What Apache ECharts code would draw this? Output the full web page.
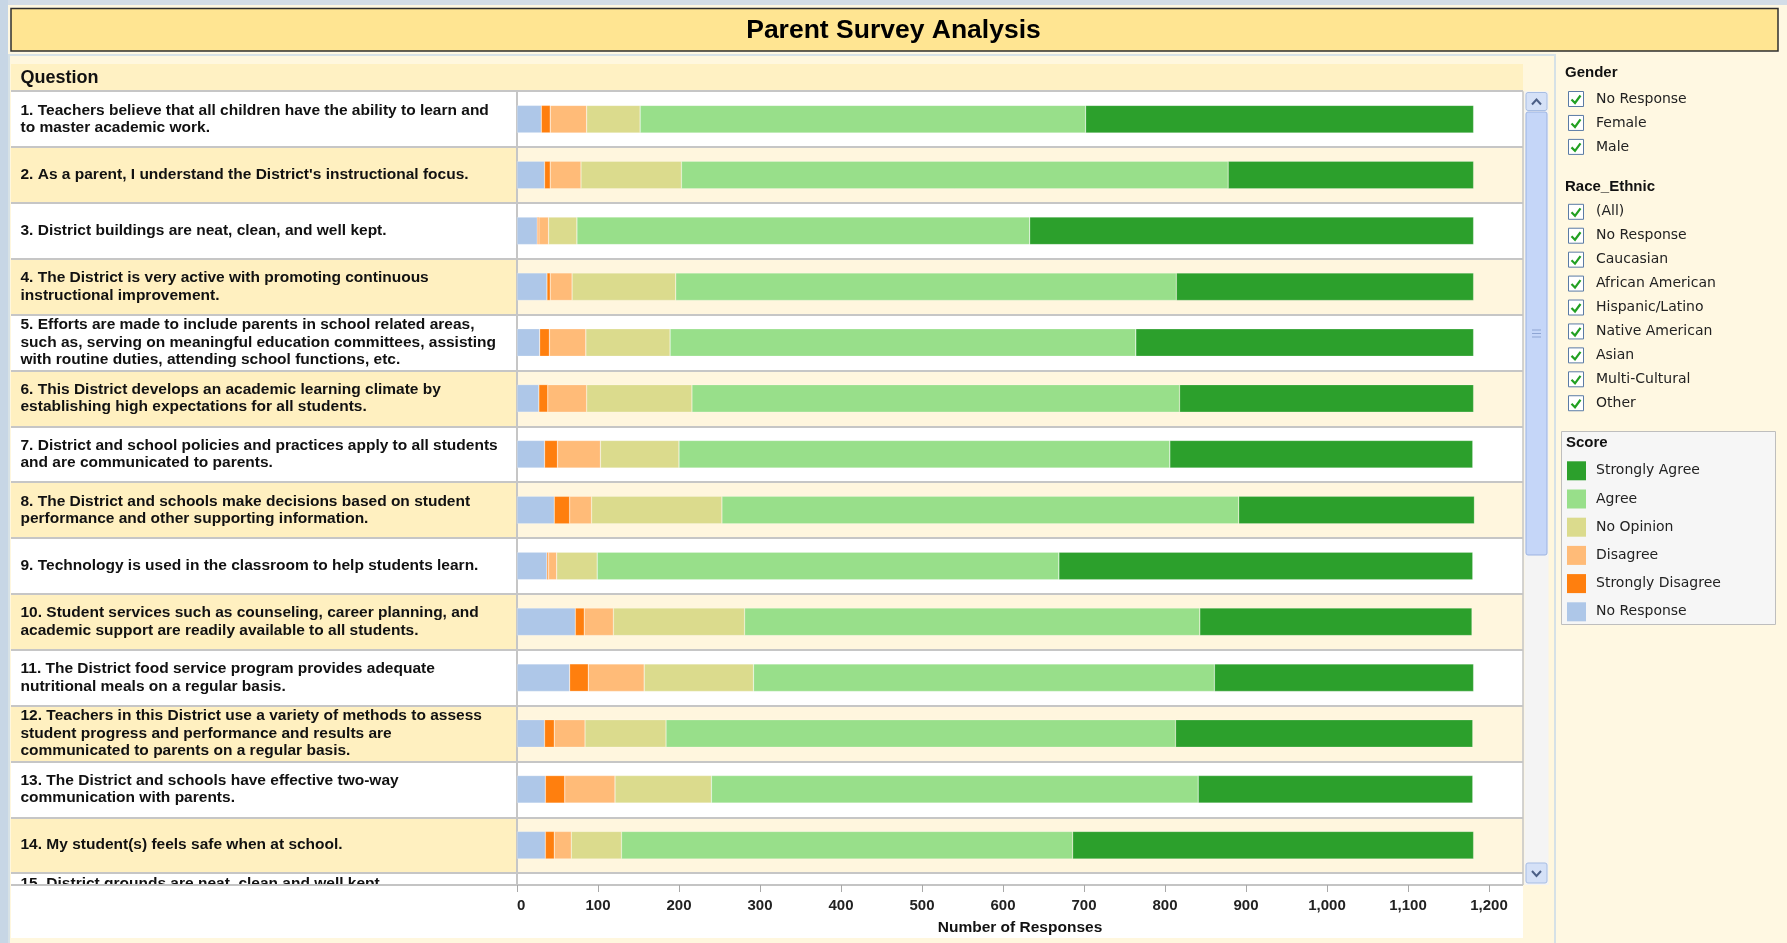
<!DOCTYPE html>
<html>
<head>
<meta charset="utf-8">
<title>Parent Survey Analysis</title>
<script src="https://cdn.jsdelivr.net/npm/echarts@6/dist/echarts.min.js"></script>
<style>
  html, body { margin: 0; padding: 0; background: #FFF8E2; }
  #chart { width: 1787px; height: 943px; }
</style>
</head>
<body>
<div id="chart"></div>
<script>
// ---- Survey data -------------------------------------------------------
const questions = [
  "1. Teachers believe that all children have the ability to learn and\nto master academic work.",
  "2. As a parent, I understand the District's instructional focus.",
  "3. District buildings are neat, clean, and well kept.",
  "4. The District is very active with promoting continuous\ninstructional improvement.",
  "5. Efforts are made to include parents in school related areas,\nsuch as, serving on meaningful education committees, assisting\nwith routine duties, attending school functions, etc.",
  "6. This District develops an academic learning climate by\nestablishing high expectations for all students.",
  "7. District and school policies and practices apply to all students\nand are communicated to parents.",
  "8. The District and schools make decisions based on student\nperformance and other supporting information.",
  "9. Technology is used in the classroom to help students learn.",
  "10. Student services such as counseling, career planning, and\nacademic support are readily available to all students.",
  "11. The District food service program provides adequate\nnutritional meals on a regular basis.",
  "12. Teachers in this District use a variety of methods to assess\nstudent progress and performance and results are\ncommunicated to parents on a regular basis.",
  "13. The District and schools have effective two-way\ncommunication with parents.",
  "14. My student(s) feels safe when at school.",
  "15. District grounds are neat, clean and well kept."
];

const scoreNames  = ["No Response", "Strongly Disagree", "Disagree", "No Opinion", "Agree", "Strongly Agree"];
const scoreColors = ["#AEC7E8", "#FF7F0E", "#FFBB78", "#DBDB8D", "#98DF8A", "#2CA02C"];

// Responses per question (question 15 is scrolled out of view)
const noResponse       = [30, 34, 25, 37, 28, 27, 34, 46, 37, 72, 65, 34, 35, 35, null];
const stronglyDisagree = [11,  7,  2,  4, 12, 11, 16, 19,  2, 11, 23, 12, 24, 11, null];
const disagree         = [45, 38, 12, 27, 45, 48, 53, 27, 10, 36, 69, 38, 62, 21, null];
const noOpinion        = [66, 124, 35, 128, 104, 130, 97, 161, 50, 162, 135, 100, 119, 62, null];
const agree            = [550, 675, 559, 618, 575, 602, 606, 638, 570, 562, 569, 629, 601, 557, null];
const stronglyAgree    = [479, 303, 548, 367, 417, 363, 374, 291, 511, 336, 320, 367, 339, 495, null];

const responseTicks = [0, 100, 200, 300, 400, 500, 600, 700, 800, 900, 1000, 1100, 1200];
const axisTitle = "Number of Responses";

const genderOptions = ["No Response", "Female", "Male"];
const raceOptions = ["(All)", "No Response", "Caucasian", "African American", "Hispanic/Latino",
                     "Native American", "Asian", "Multi-Cultural", "Other"];

// ---- Layout --------------------------------------------------------------
const rowH = 55.85;
const rowsTop = 91.2;
const labelLeft = 11;
const barLeft = 517;
const barRight = 1523;
const paneBottom = 885;
const axisMax = 1242;
const gridHeight = rowH * questions.length;

const seriesValues = [noResponse, stronglyDisagree, disagree, noOpinion, agree, stronglyAgree];

const labelFont = "'Liberation Sans', Arial, sans-serif";
const sideFont = "'DejaVu Sans', Verdana, sans-serif";

// ---- Filter panel (checkbox lists) ---------------------------------------
function checkbox(label, cy) {
  return [
    { type: 'rect', z: 5, shape: { x: 1568.5, y: cy - 7.5, width: 15, height: 15 },
      style: { fill: '#FFFFFF', stroke: '#5B7BA5', lineWidth: 1 } },
    { type: 'polyline', z: 6, shape: { points: [[1571.5, cy + 0.5], [1575, cy + 4], [1580.5, cy - 3.5]] },
      style: { stroke: '#22A022', lineWidth: 2.2, fill: null } },
    { type: 'text', z: 6, x: 1596, y: cy,
      style: { text: label, font: '14px ' + sideFont, fill: '#222222', verticalAlign: 'middle' } }
  ];
}
function header(label, x, cy) {
  return { type: 'text', z: 6, x: x, y: cy,
    style: { text: label, font: 'bold 15px ' + labelFont, fill: '#111111', verticalAlign: 'middle' } };
}

const graphics = [];
// window chrome
graphics.push({ type: 'rect', z: 0, shape: { x: 0, y: 0, width: 1787, height: 5 }, style: { fill: '#D3DDE7' } });
graphics.push({ type: 'rect', z: 0, shape: { x: 0, y: 0, width: 8, height: 943 }, style: { fill: '#C7D6E5' } });
// title box
graphics.push({ type: 'rect', z: 0, shape: { x: 11, y: 8.5, width: 1767, height: 42.5 },
  style: { fill: '#FFE592', stroke: '#2F2F2F', lineWidth: 1.5 } });
// main panel frame and header band
graphics.push({ type: 'rect', z: 0, shape: { x: 9, y: 55, width: 1546, height: 892 },
  style: { fill: '#FFF7DE', stroke: '#D6E1E6', lineWidth: 2 } });
graphics.push({ type: 'rect', z: 0, shape: { x: 11, y: 64, width: barRight - 11, height: rowsTop - 64 },
  style: { fill: '#FFF1C3' } });
graphics.push({ type: 'text', z: 0, x: 20.5, y: 78.5,
  style: { text: 'Question', font: 'bold 18px ' + labelFont, fill: '#111111', verticalAlign: 'middle' } });
// axis strip below the scrolling rows
graphics.push({ type: 'rect', z: 10, shape: { x: 11, y: paneBottom, width: barRight - 11, height: 938 - paneBottom },
  style: { fill: '#FFFFFF' } });
graphics.push({ type: 'line', z: 11, shape: { x1: 11, y1: paneBottom, x2: barRight, y2: paneBottom },
  style: { stroke: '#C4C4C4', lineWidth: 2 } });
graphics.push({ type: 'line', z: 11, shape: { x1: barRight, y1: rowsTop, x2: barRight, y2: paneBottom },
  style: { stroke: '#C4C4C4', lineWidth: 1.5 } });
// scrollbar
graphics.push({ type: 'rect', z: 10, shape: { x: 1524.5, y: rowsTop, width: 24, height: paneBottom - rowsTop },
  style: { fill: '#F4F4F4' } });
graphics.push({ type: 'rect', z: 11, shape: { x: 1526, y: 92.5, width: 21, height: 18, r: 2 },
  style: { fill: '#D5E1F7', stroke: '#A7BDE3', lineWidth: 1 } });
graphics.push({ type: 'polyline', z: 12, shape: { points: [[1532, 104.5], [1536.5, 99.5], [1541, 104.5]] },
  style: { stroke: '#4C5F86', lineWidth: 2, fill: null } });
graphics.push({ type: 'rect', z: 11, shape: { x: 1526, y: 112, width: 21, height: 443, r: 2 },
  style: { fill: '#C5D6F8', stroke: '#9CB3E1', lineWidth: 1 } });
[330, 333.5, 337].forEach(function (gy) {
  graphics.push({ type: 'line', z: 12, shape: { x1: 1532, y1: gy, x2: 1541, y2: gy },
    style: { stroke: '#8EA5D3', lineWidth: 1 } });
});
graphics.push({ type: 'rect', z: 11, shape: { x: 1526, y: 863, width: 21, height: 20, r: 2 },
  style: { fill: '#D5E1F7', stroke: '#A7BDE3', lineWidth: 1 } });
graphics.push({ type: 'polyline', z: 12, shape: { points: [[1532, 871], [1536.5, 876], [1541, 871]] },
  style: { stroke: '#4C5F86', lineWidth: 2, fill: null } });
// side panel filters
graphics.push(header('Gender', 1565, 73));
genderOptions.forEach(function (g, i) { graphics.push.apply(graphics, checkbox(g, 99 + i * 23.95)); });
graphics.push(header('Race_Ethnic', 1565, 187));
raceOptions.forEach(function (r, i) { graphics.push.apply(graphics, checkbox(r, 211.8 + i * 23.93)); });
// score legend box
graphics.push({ type: 'rect', z: 5, shape: { x: 1561.5, y: 431.5, width: 214, height: 193 },
  style: { fill: '#F6F6F6', stroke: '#BEBEBE', lineWidth: 1 } });
graphics.push(header('Score', 1566, 443));

// ---- Chart -------------------------------------------------------------
const chart = echarts.init(document.getElementById('chart'), null, { renderer: 'canvas' });

const option = {
  animation: false,
  backgroundColor: '#FFF8E2',
  textStyle: { fontFamily: labelFont },
  title: {
    text: 'Parent Survey Analysis', left: 'center', top: 17.5, padding: 0,
    textStyle: { fontSize: 26.5, fontWeight: 'bold', color: '#000000', fontFamily: labelFont }
  },
  legend: {
    orient: 'vertical', left: 1567, top: 461.3, padding: 0,
    itemWidth: 19, itemHeight: 19, itemGap: 9.2, icon: 'rect', selectedMode: false,
    data: scoreNames.slice().reverse(),
    itemStyle: { borderWidth: 0 },
    textStyle: { fontFamily: sideFont, fontSize: 14, color: '#222222', padding: [0, 0, 0, 5] },
    z: 20
  },
  graphic: { elements: graphics },
  grid: [
    { left: labelLeft, top: rowsTop, width: barLeft - labelLeft, height: gridHeight },
    { left: barLeft, top: rowsTop, width: barRight - barLeft, height: gridHeight },
    { left: barLeft, top: paneBottom - 1, width: barRight - barLeft, height: 1 }
  ],
  xAxis: [
    { type: 'value', gridIndex: 0, show: false, min: 0, max: 1 },
    { type: 'value', gridIndex: 1, show: false, min: 0, max: axisMax },
    {
      type: 'value', gridIndex: 2, min: 0, max: axisMax, position: 'bottom', z: 20,
      axisLine: { show: false },
      splitLine: { show: false },
      axisTick: { show: true, customValues: responseTicks, length: 7, lineStyle: { color: '#A8A8A8', width: 1 } },
      axisLabel: {
        customValues: responseTicks, margin: 13, fontSize: 15, fontWeight: 'bold', color: '#222222',
        fontFamily: labelFont, alignMinLabel: 'left',
        formatter: function (v) { return v.toLocaleString('en-US'); }
      },
      name: axisTitle, nameLocation: 'middle', nameGap: 35,
      nameTextStyle: { fontSize: 15.5, fontWeight: 'bold', color: '#111111', fontFamily: labelFont }
    }
  ],
  yAxis: [
    {
      type: 'category', gridIndex: 0, data: questions, inverse: true, z: 1,
      axisLine: { show: false }, axisTick: { show: false },
      axisLabel: {
        inside: true, margin: 9.5, align: 'left', interval: 0,
        color: '#111111', fontSize: 15.5, fontWeight: 'bold', lineHeight: 17.5, fontFamily: labelFont,
        formatter: function (v, i) { return i === questions.length - 1 ? '{cut|' + v + '}' : v; },
        rich: {
          cut: { fontSize: 15.5, fontWeight: 'bold', lineHeight: 17.5, fontFamily: labelFont,
                 color: '#111111', padding: [0, 0, 34, 0] }
        }
      },
      splitLine: { show: true, interval: 0, lineStyle: { color: '#C6C6C6', width: 2 } },
      splitArea: { show: true, interval: 0, areaStyle: { color: ['#FFFFFF', '#FFF0C0'] } }
    },
    {
      type: 'category', gridIndex: 1, data: questions, inverse: true, z: 1,
      axisLine: { show: true, lineStyle: { color: '#C6C6C6', width: 2 } },
      axisTick: { show: false }, axisLabel: { show: false },
      splitLine: { show: true, interval: 0, lineStyle: { color: '#C6C6C6', width: 2 } },
      splitArea: { show: true, interval: 0, areaStyle: { color: ['#FFFFFF', '#FFF6DE'] } }
    },
    { type: 'value', gridIndex: 2, show: false }
  ],
  series: scoreNames.map(function (name, k) {
    return {
      name: name, type: 'bar', stack: 'responses',
      xAxisIndex: 1, yAxisIndex: 1,
      barWidth: 27.5,
      itemStyle: { color: scoreColors[k], borderColor: 'rgba(255,255,255,0.45)', borderWidth: 0.5 },
      emphasis: { disabled: true },
      data: seriesValues[k]
    };
  })
};

chart.setOption(option);
</script>
</body>
</html>
